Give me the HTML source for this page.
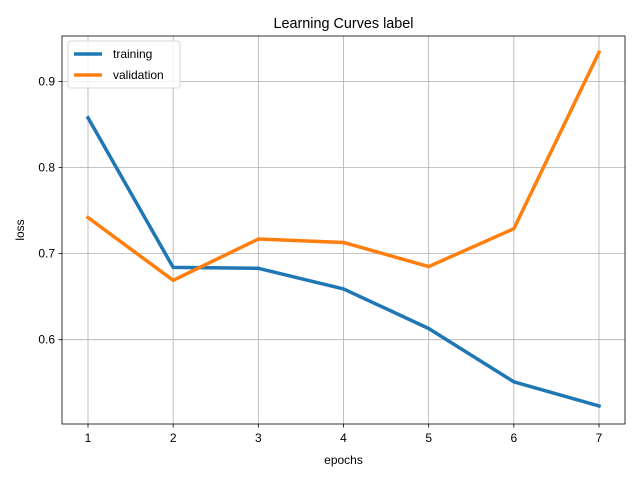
<!DOCTYPE html>
<html><head><meta charset="utf-8"><style>
body{margin:0;background:#fff;}
svg{display:block;font-family:"Liberation Sans",Arial,sans-serif;}
</style></head><body>
<svg id="chart" width="640" height="480"></svg>
<script>
const epochs=[1,2,3,4,5,6,7];
const training=[0.858,0.684,0.683,0.659,0.613,0.551,0.523];
const validation=[0.742,0.669,0.717,0.713,0.685,0.729,0.934];
const yTicks=[0.6,0.7,0.8,0.9];
const yTickLabels=["0.6","0.7","0.8","0.9"];
const xTickLabels=["1","2","3","4","5","6","7"];

const L=62,R=625,T=36,B=424;
const yMin=0.502,yMax=0.953;
const xs=v=>88+(v-1)*(599-88)/6;
const ys=v=>B-(v-yMin)/(yMax-yMin)*(B-T);
const NS="http://www.w3.org/2000/svg";
const svg=document.getElementById('chart');
function mk(tag,attrs,parent){const e=document.createElementNS(NS,tag);for(const k in attrs)e.setAttribute(k,attrs[k]);(parent||svg).appendChild(e);return e;}

const grid=mk('g',{});


epochs.forEach((e,i)=>{
  const l=mk('line',{x1:xs(e),x2:xs(e),y1:T,y2:B,stroke:'#b0b0b0','stroke-width':0.8},grid);
  
  
  const tk=mk('line',{x1:xs(e),x2:xs(e),y1:B,y2:B+3.5,stroke:'#000','stroke-width':0.8});
  
  
  const t=mk('text',{x:xs(e),y:B+18,'text-anchor':'middle','font-size':12});
  t.textContent=xTickLabels[i];
  
  
});
yTicks.forEach((v,i)=>{
  const l=mk('line',{x1:L,x2:R,y1:ys(v),y2:ys(v),stroke:'#b0b0b0','stroke-width':0.8},grid);
  
  
  const tk=mk('line',{x1:L-3.5,x2:L,y1:ys(v),y2:ys(v),stroke:'#000','stroke-width':0.8});
  
  
  const t=mk('text',{x:L-7,y:ys(v)+4,'text-anchor':'end','font-size':12});
  t.textContent=yTickLabels[i];
  
  
});
function series(data,color,name){
  const p=mk('polyline',{points:data.map((v,i)=>xs(epochs[i])+','+ys(v)).join(' '),fill:'none',stroke:color,'stroke-width':3.5,'stroke-linejoin':'round','stroke-linecap':'square'});
  
  
}
series(training,'#1f77b4','training-line');
series(validation,'#ff7f0e','validation-line');
const frame=mk('rect',{x:L,y:T,width:R-L,height:B-T,fill:'none',stroke:'#000','stroke-width':0.8});


const title=mk('text',{x:(L+R)/2,y:T-8,'text-anchor':'middle','font-size':14.4});
title.textContent='Learning Curves label';


const xl=mk('text',{x:(L+R)/2,y:B+40,'text-anchor':'middle','font-size':12});
xl.textContent='epochs';


const yl=mk('text',{x:0,y:0,'text-anchor':'middle','font-size':12,transform:'translate(24,'+((T+B)/2)+') rotate(-90)'});
yl.textContent='loss';


const lg=mk('g',{});


mk('rect',{x:68,y:41,width:112,height:47,rx:3,fill:'#fff','fill-opacity':0.8,stroke:'#ccc','stroke-width':0.8},lg);
[['training','#1f77b4',54],['validation','#ff7f0e',75]].forEach(([n,c,y])=>{
  const ln=mk('line',{x1:74,x2:102,y1:y,y2:y,stroke:c,'stroke-width':3.5},lg);
  
  
  const t=mk('text',{x:113,y:y+4,'font-size':12},lg);
  t.textContent=n;
  
  
});
</script>
</body></html>
